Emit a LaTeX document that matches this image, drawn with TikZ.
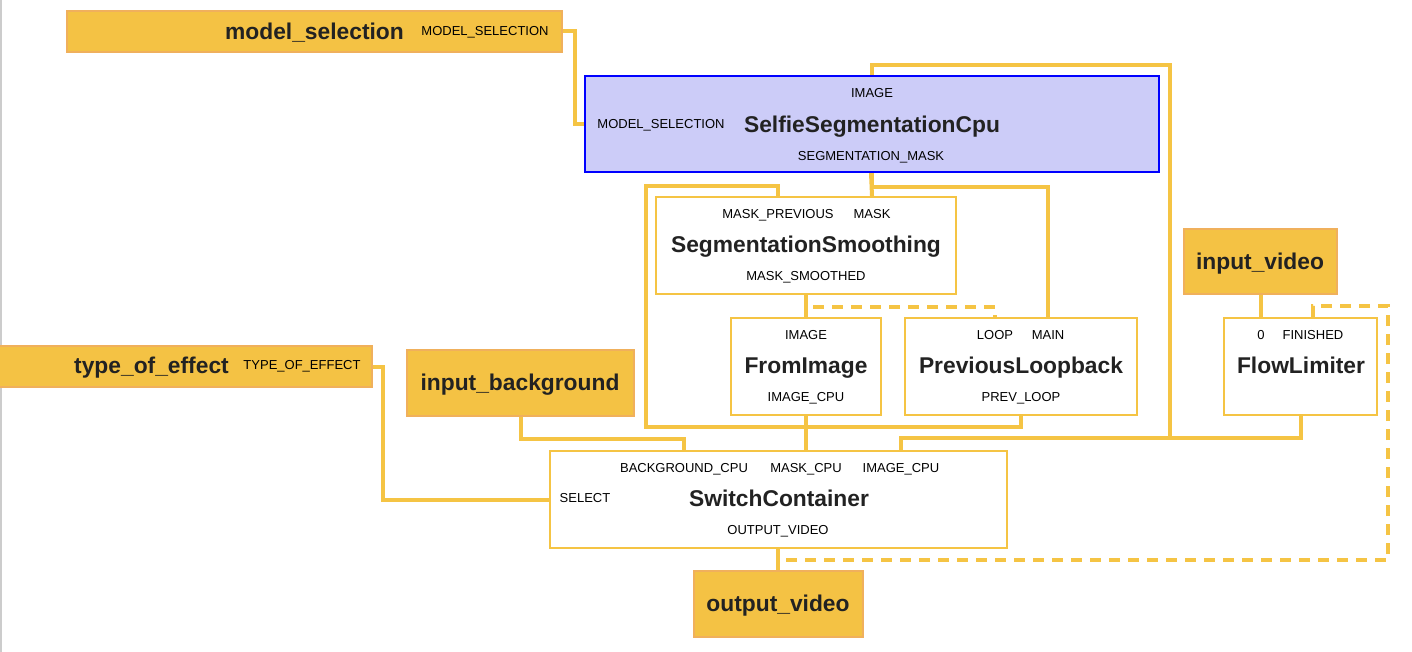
\documentclass[tikz,border=0pt]{standalone}
\usepackage{fontspec}
\setmainfont{Liberation Sans}
\usetikzlibrary{backgrounds}
\definecolor{wirec}{HTML}{F5C444}
\definecolor{infill}{HTML}{F4C244}
\definecolor{inborder}{HTML}{F0B05C}
\definecolor{calcfill}{HTML}{CCCCF8}
\definecolor{titlec}{HTML}{222222}
\begin{document}
\begin{tikzpicture}[x=1pt,y=-1pt,
  wire/.style={draw=wirec,line width=4pt},
  dwire/.style={draw=wirec,line width=4pt,dash pattern=on 11pt off 8pt},
  inbox/.style={draw=inborder,fill=infill,line width=2pt,inner sep=0pt},
  calcbox/.style={draw=wirec,fill=white,line width=2pt,inner sep=0pt},
  selbox/.style={draw=blue,fill=calcfill,line width=2pt,inner sep=0pt},
  port/.style={font=\fontsize{13}{13}\selectfont,inner sep=0pt,text height=9.4pt,text depth=0pt,text=black},
  title/.style={font=\fontsize{22.8}{22.8}\selectfont\bfseries,inner sep=0pt,text height=16.3pt,text depth=0pt,text=titlec}]
\useasboundingbox (0,0) rectangle (1412,652);

% boxes
\node[inbox,minimum width=495pt,minimum height=41pt] (ms) at (314.5,31.5) {};
\node[selbox,minimum width=574pt,minimum height=96pt] (ssc) at (872,124) {};
\node[calcbox,minimum width=300pt,minimum height=97pt] (sm) at (806,245.5) {};
\node[calcbox,minimum width=150pt,minimum height=97pt] (fi) at (806,366.5) {};
\node[calcbox,minimum width=232pt,minimum height=97pt] (pl) at (1021,366.5) {};
\node[inbox,minimum width=153pt,minimum height=65pt] (iv) at (1260.5,261.5) {};
\node[calcbox,minimum width=153pt,minimum height=97pt] (fl) at (1300.5,366.5) {};
\node[inbox,minimum width=376pt,minimum height=41pt] (toe) at (184,366.5) {};
\node[inbox,minimum width=227pt,minimum height=66pt] (ib) at (520.5,383) {};
\node[calcbox,minimum width=457pt,minimum height=97pt] (sc) at (778.5,499.5) {};
\node[inbox,minimum width=169pt,minimum height=66pt] (ov) at (778.5,604) {};

% labels
\node[title,anchor=east] (msT) at (404,31) {model\_selection};
\node[port] (msP) at (485,31) {MODEL\_SELECTION};

\node[port] (sscImg) at (872,93) {IMAGE};
\node[port] (sscMs) at (661,124) {MODEL\_SELECTION};
\node[title] (sscT) at (872,124) {SelfieSegmentationCpu};
\node[port] (sscMask) at (871,156) {SEGMENTATION\_MASK};

\node[port] (smPrev) at (778,214) {MASK\_PREVIOUS};
\node[port] (smMask) at (872,214) {MASK};
\node[title] (smT) at (806,244) {SegmentationSmoothing};
\node[port] (smOut) at (806,276) {MASK\_SMOOTHED};

\node[port] (fiImg) at (806,335) {IMAGE};
\node[title] (fiT) at (806,365) {FromImage};
\node[port] (fiOut) at (806,397) {IMAGE\_CPU};

\node[port] (plLoop) at (995,335) {LOOP};
\node[port] (plMain) at (1048,335) {MAIN};
\node[title] (plT) at (1021,365) {PreviousLoopback};
\node[port] (plOut) at (1021,397) {PREV\_LOOP};

\node[title] (ivT) at (1260,261) {input\_video};

\node[port] (flZero) at (1261,335) {0};
\node[port] (flFin) at (1313,335) {FINISHED};
\node[title] (flT) at (1301,365) {FlowLimiter};

\node[title,anchor=east] (toeT) at (229,365) {type\_of\_effect};
\node[port] (toeP) at (302,365) {TYPE\_OF\_EFFECT};

\node[title] (ibT) at (520,382) {input\_background};

\node[port] (scBg) at (684,468) {BACKGROUND\_CPU};
\node[port] (scMask) at (806,468) {MASK\_CPU};
\node[port] (scImg) at (901,468) {IMAGE\_CPU};
\node[port] (scSel) at (585,498) {SELECT};
\node[title] (scT) at (779,498) {SwitchContainer};
\node[port] (scOut) at (778,530) {OUTPUT\_VIDEO};

\node[title] (ovT) at (778,603) {output\_video};

% junction coordinates
\coordinate (j1) at (1170,438);
\coordinate (j2) at (1170,65);
\coordinate (lp1) at (646,427);
\coordinate (lp2) at (646,186);
\coordinate (d1) at (1388,560);
\coordinate (d2) at (1388,306);

\begin{pgfonlayer}{background}
\fill[white] (0,0) rectangle (1412,652);
\draw[draw=black!20,line width=2pt] (1,0) -- (1,652);
\draw[wire] (ms.east) -- ++(12,0) |- (ssc.west);
\draw[wire] (fl.south) |- (j1) -- (j2) -| (ssc.north -| sscImg);
\draw[wire] (j1) -| (sc.north -| scImg);
\draw[wire] (ssc.south -| sscMask) -- (sm.north -| smMask);
\draw[wire] (ssc.south -| smMask) -- ++(0,14) -| (pl.north -| plMain);
\draw[wire] (pl.south -| plOut) |- (lp1) -- (lp2) -| (sm.north -| smPrev);
\draw[wire] (sm.south -| smOut) -- (fi.north -| fiImg);
\draw[dwire] (sm.south -| smOut) -- ++(0,12) -| (pl.north -| plLoop);
\draw[wire] (fi.south -| fiOut) -- (sc.north -| scMask);
\draw[wire] (ib.south) -- ++(0,22) -| (sc.north -| scBg);
\draw[wire] (iv.south -| flZero) -- (fl.north -| flZero);
\draw[wire] (toe.east) -- ++(10,0) |- (sc.west);
\draw[wire] (sc.south -| scOut) -- (ov.north -| scOut);
\draw[dwire] (sc.south -| scOut) |- (d1) -- (d2) -| (fl.north -| flFin);
\end{pgfonlayer}
\end{tikzpicture}
\end{document}
